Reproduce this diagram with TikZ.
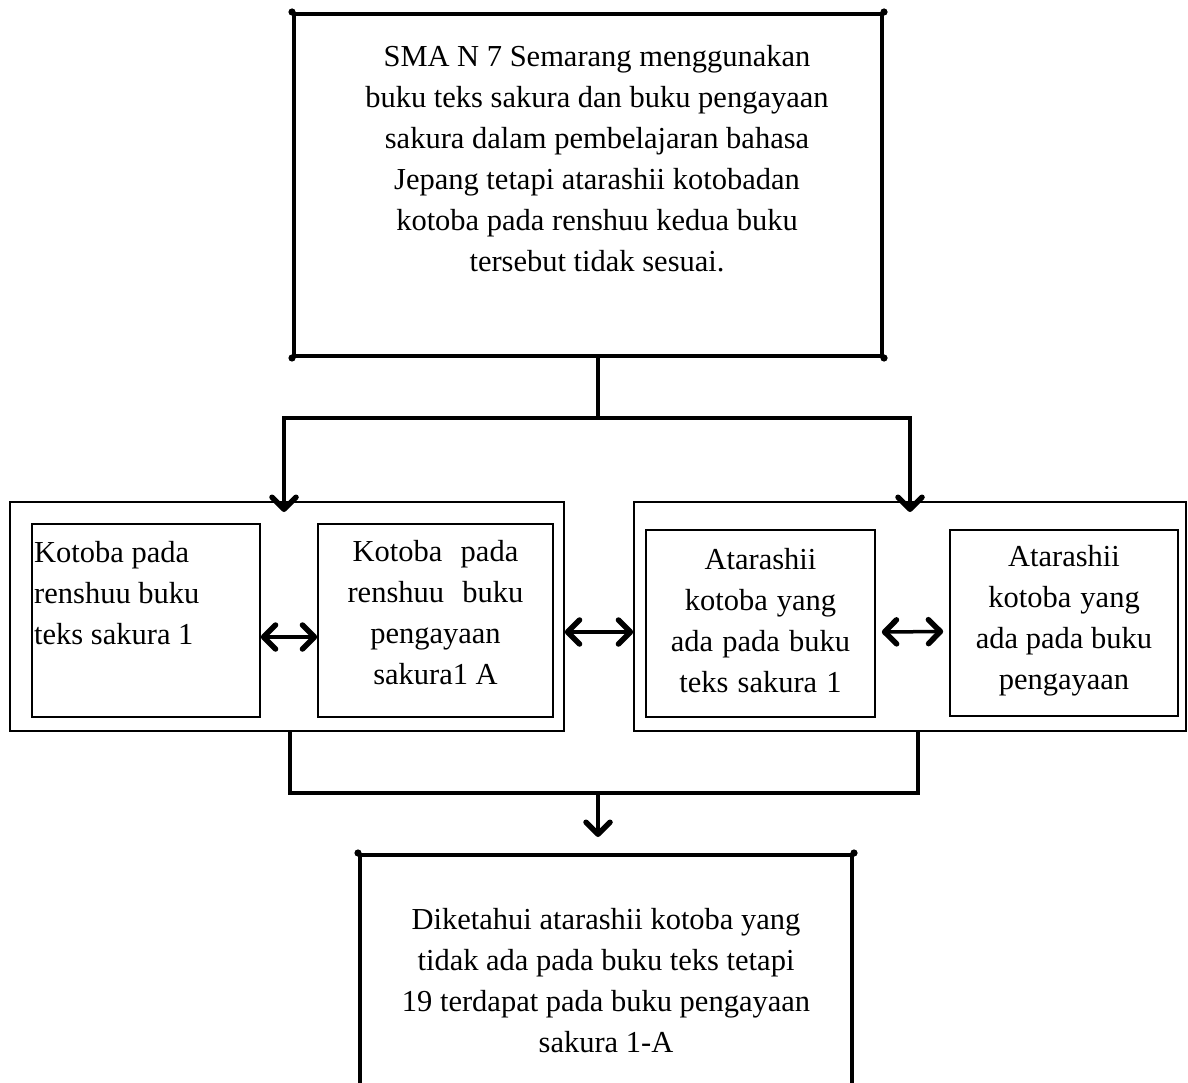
\documentclass[tikz,border=0pt]{standalone}
\usepackage{fontspec}
\setmainfont{Liberation Serif}
\usetikzlibrary{arrows.meta}
\begin{document}
\begin{tikzpicture}[x=1pt,y=-1pt,
  txt/.style={font=\fontsize{30.5}{41}\selectfont, inner sep=0pt},
  heavybox/.style={draw, line width=4pt, inner sep=0pt},
  lightbox/.style={draw, line width=1.6pt, inner sep=0pt},
  conn/.style={line width=3.5pt},
  arr/.style={conn, -{Straight Barb[length=12pt,width=24pt,line width=5.5pt,round]}},
  dbl/.style={conn, {Straight Barb[length=12pt,width=24pt,line width=5.5pt,round]}-{Straight Barb[length=12pt,width=24pt,line width=5.5pt,round]}},
  cornerdot/.style={fill=black}
]
\clip (0,0) rectangle (1188,1083);
\fill[white] (0,0) rectangle (1188,1083);

% top box
\node[heavybox, minimum width=588pt, minimum height=342pt] (top) at (588,185) {};
\node[txt, align=center] (toptext) at (597,159) {SMA N 7 Semarang menggunakan\\
buku teks sakura dan buku pengayaan\\
sakura dalam pembelajaran bahasa\\
Jepang tetapi atarashii kotobadan\\
kotoba pada renshuu kedua buku\\
tersebut tidak sesuai.};
\foreach \c in {north west,north east,south west,south east}
  \fill[cornerdot] (top.\c) circle (3.6);

% group boxes
\node[lightbox, minimum width=554pt, minimum height=229pt] (lg) at (287,616.5) {};
\node[lightbox, minimum width=552pt, minimum height=229pt] (rg) at (910,616.5) {};

% inner boxes
\node[lightbox, minimum width=228pt, minimum height=193pt] (b1) at (146,620.5) {};
\node[txt, align=left, anchor=north west] (b1text) at (34,541) {Kotoba pada\\renshuu buku\\teks sakura 1};
\node[lightbox, minimum width=235pt, minimum height=193pt] (b2) at (435.5,620.5) {};
\node[txt, align=center] (b2text) at (435.5,613)
  {Kotoba\hspace{0.6em}pada\\renshuu\hspace{0.6em}buku\\pengayaan\\sakura1 A};
\node[lightbox, minimum width=229pt, minimum height=187pt] (b3) at (760.5,623.5) {};
\node[txt, align=center] (b3text) at (760.5,621)
  {Atarashii\\kotoba\hspace{0.3em}yang\\ada\hspace{0.3em}pada\hspace{0.3em}buku\\teks\hspace{0.3em}sakura\hspace{0.3em}1};
\node[lightbox, minimum width=228pt, minimum height=186pt] (b4) at (1064,623) {};
\node[txt, align=center] (b4text) at (1064,621)
  {Atarashii\\kotoba\hspace{0.3em}yang\\ada pada buku\\pengayaan};

% bottom box (open at the bottom of the picture)
\node[heavybox, txt, minimum width=492pt, minimum height=252pt, align=center] (bot) at (606,981)
  {Diketahui atarashii kotoba yang\\
tidak ada pada buku teks tetapi\\
19 terdapat pada buku pengayaan\\
sakura 1-A};
\foreach \c in {north west,north east}
  \fill[cornerdot] (bot.\c) circle (3.6);

% connectors from top box
\coordinate (split) at (598,418);
\coordinate (lin) at (284,512);
\coordinate (rin) at (910,512);
\draw[conn] (top.south -| split) -- (split);
\draw[arr] (split) -| (lin);
\draw[arr] (split) -| (rin);

% double arrows
\draw[dbl] ([yshift=-16.5pt]b1.east) -- ([yshift=-16.5pt]b2.west);
\draw[dbl] ([yshift=-15.5pt]lg.east) -- ([yshift=-15.5pt]rg.west);
\draw[dbl, shorten <=6pt, shorten >=6pt] ([yshift=-8.5pt]b3.east) -- ([yshift=-8.5pt]b4.west);

% connectors to bottom box
\coordinate (ljoin) at (290,793);
\coordinate (rjoin) at (918,793);
\coordinate (mjoin) at (598,793);
\draw[conn] (lg.south -| ljoin) -- (ljoin) -- (rjoin) -- (rg.south -| rjoin);
\draw[arr, shorten >=16pt] (mjoin) -- (bot.north -| mjoin);
\end{tikzpicture}
\end{document}
